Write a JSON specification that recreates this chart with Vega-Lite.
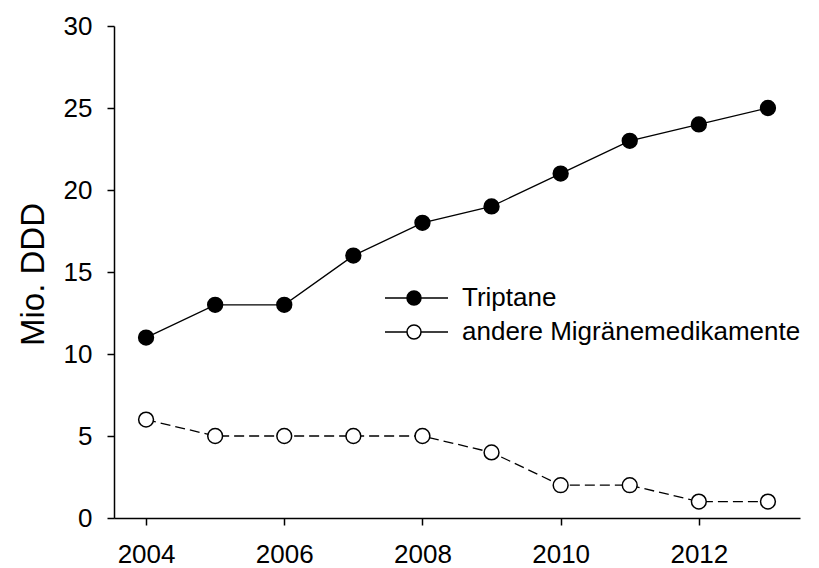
{
  "$schema": "https://vega.github.io/schema/vega-lite/v6.json",
  "width": 686,
  "height": 492,
  "autosize": {"type": "none"},
  "padding": {"left": 114, "top": 26, "right": 19, "bottom": 50},
  "background": "white",
  "config": {"view": {"stroke": null}, "font": "Liberation Sans"},
  "data": {
    "values": [
      {"year": 2004, "series": "Triptane", "value": 11},
      {"year": 2005, "series": "Triptane", "value": 13},
      {"year": 2006, "series": "Triptane", "value": 13},
      {"year": 2007, "series": "Triptane", "value": 16},
      {"year": 2008, "series": "Triptane", "value": 18},
      {"year": 2009, "series": "Triptane", "value": 19},
      {"year": 2010, "series": "Triptane", "value": 21},
      {"year": 2011, "series": "Triptane", "value": 23},
      {"year": 2012, "series": "Triptane", "value": 24},
      {"year": 2013, "series": "Triptane", "value": 25},
      {"year": 2004, "series": "andere Migränemedikamente", "value": 6},
      {"year": 2005, "series": "andere Migränemedikamente", "value": 5},
      {"year": 2006, "series": "andere Migränemedikamente", "value": 5},
      {"year": 2007, "series": "andere Migränemedikamente", "value": 5},
      {"year": 2008, "series": "andere Migränemedikamente", "value": 5},
      {"year": 2009, "series": "andere Migränemedikamente", "value": 4},
      {"year": 2010, "series": "andere Migränemedikamente", "value": 2},
      {"year": 2011, "series": "andere Migränemedikamente", "value": 2},
      {"year": 2012, "series": "andere Migränemedikamente", "value": 1},
      {"year": 2013, "series": "andere Migränemedikamente", "value": 1}
    ]
  },
  "encoding": {
    "x": {
      "field": "year", "type": "quantitative",
      "scale": {"domain": [2003.536, 2013.464], "nice": false, "zero": false},
      "axis": {
        "title": null, "values": [2004, 2006, 2008, 2010, 2012], "format": "d",
        "grid": false, "domainColor": "black", "domainWidth": 1.5,
        "tickColor": "black", "tickWidth": 1.5, "tickSize": 7,
        "labelFontSize": 26, "labelColor": "black", "labelPadding": 16,
        "labelFont": "Liberation Sans"
      }
    },
    "y": {
      "field": "value", "type": "quantitative",
      "scale": {"domain": [0, 30], "nice": false},
      "axis": {
        "title": "Mio. DDD", "values": [0, 5, 10, 15, 20, 25, 30],
        "grid": false, "domainColor": "black", "domainWidth": 1.5,
        "tickColor": "black", "tickWidth": 1.5, "tickSize": 7,
        "labelFontSize": 26, "labelColor": "black", "labelPadding": 15,
        "labelFont": "Liberation Sans",
        "titleFont": "Liberation Sans", "titleFontSize": 33, "titleFontWeight": "normal",
        "titleColor": "black", "titleAngle": -90, "titleAlign": "center",
        "titleBaseline": "alphabetic", "titleX": -71, "titleY": 248
      }
    }
  },
  "layer": [
    {
      "transform": [{"filter": "datum.series === 'Triptane'"}],
      "mark": {"type": "line", "color": "black", "strokeWidth": 1.3},
      "encoding": {}
    },
    {
      "transform": [{"filter": "datum.series !== 'Triptane'"}],
      "mark": {"type": "line", "color": "black", "strokeWidth": 1.3, "strokeDash": [10, 5]},
      "encoding": {}
    },
    {
      "mark": {"type": "point", "size": 220, "stroke": "black", "strokeWidth": 1.5, "opacity": 1, "fillOpacity": 1},
      "encoding": {
        "fill": {
          "field": "series", "type": "nominal",
          "scale": {"domain": ["Triptane", "andere Migränemedikamente"], "range": ["black", "white"]},
          "legend": {
            "title": null, "orient": "none", "legendX": 287, "legendY": 259, "padding": 0,
            "symbolSize": 400, "symbolStrokeColor": "black", "symbolStrokeWidth": 1.5,
            "symbolType": "M-2.9,0H-0.7M0.7,0H3.4M-0.7,0A0.7,0.7,0,1,1,0.7,0A0.7,0.7,0,1,1,-0.7,0Z",
            "labelFont": "Liberation Sans", "labelFontSize": 26, "labelColor": "black",
            "labelOffset": 35, "rowPadding": 8, "labelLimit": 0,
            "encode": {
              "symbols": {
                "shape": {
                  "value": {"expr": "datum.value === 'Triptane' ? 'M-2.9,0H-0.7M0.7,0H3.4M-0.7,0A0.7,0.7,0,1,1,0.7,0A0.7,0.7,0,1,1,-0.7,0Z' : 'M-2.9,0H-2.1M-0.7,0A0.7,0.7,0,1,1,0.7,0A0.7,0.7,0,1,1,-0.7,0ZM1.6,0H2.4M2.9,0H3.4'"}
                }
              }
            }
          }
        }
      }
    }
  ]
}
